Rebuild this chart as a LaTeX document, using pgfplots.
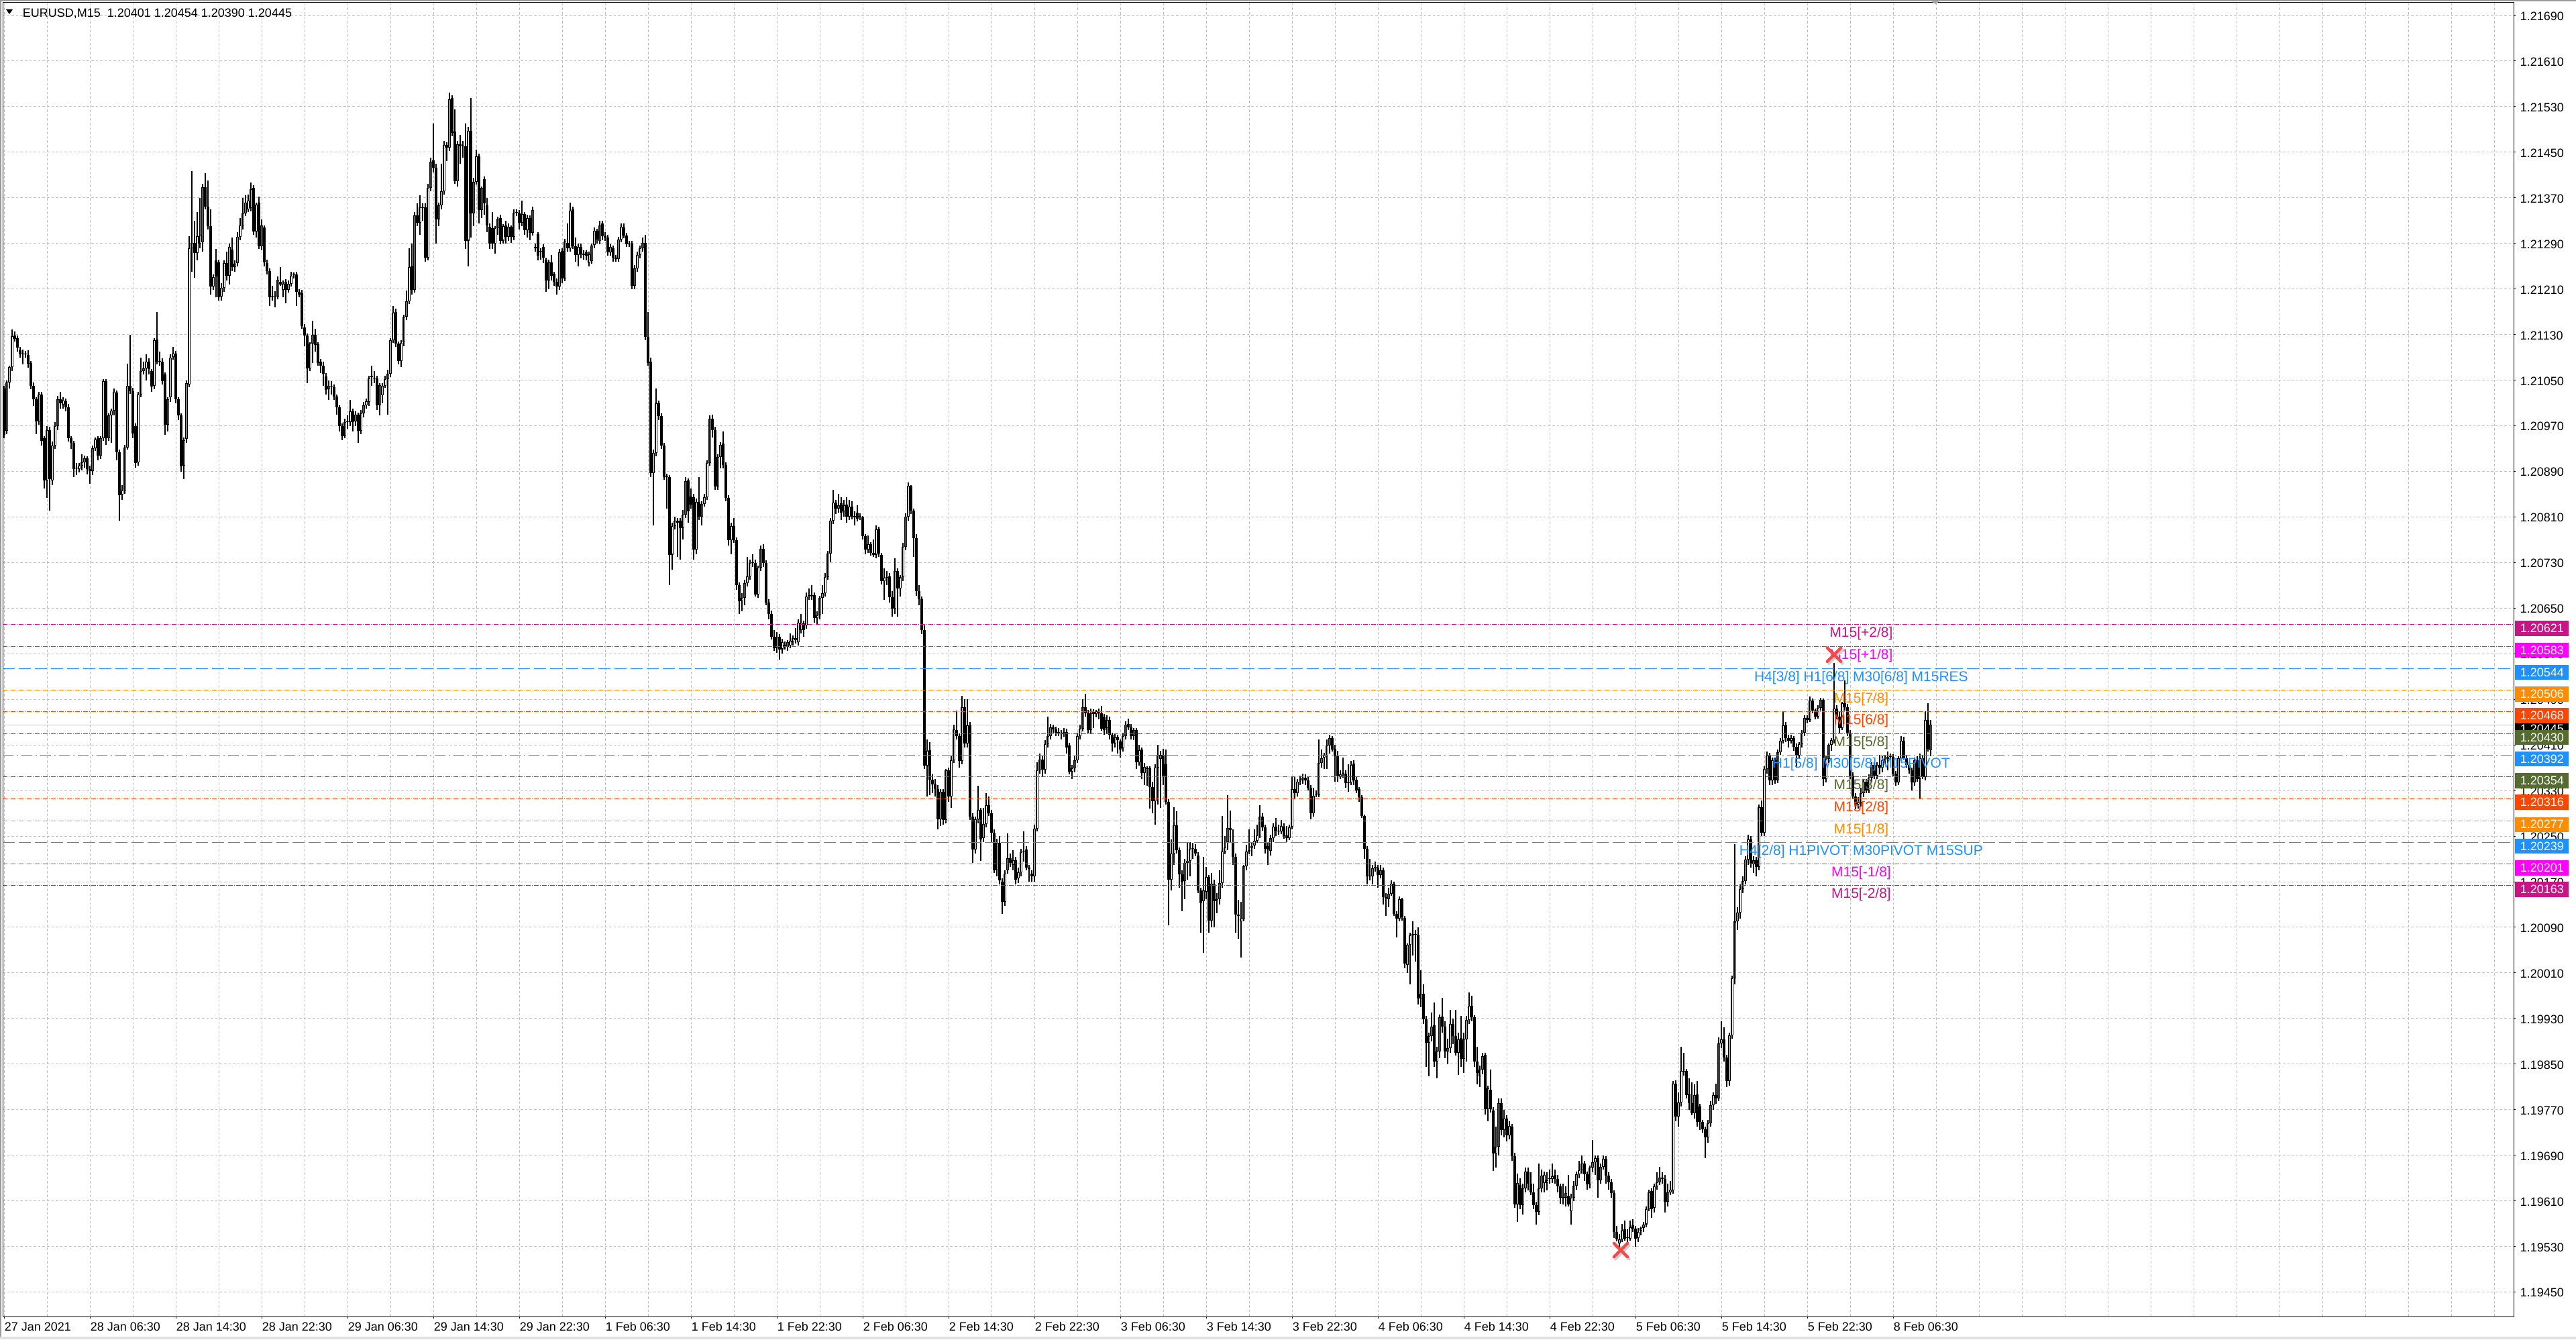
\documentclass[border=0pt]{standalone}
\usepackage{fontspec}
\setmainfont{Liberation Sans}
\usepackage{pgfplots}
\usepackage{pgfplotstable}
\pgfplotsset{compat=1.18}
\definecolor{mvr}{HTML}{C71585}
\definecolor{mag}{HTML}{FF00FF}
\definecolor{dblue}{HTML}{1E90FF}
\definecolor{dorange}{HTML}{FF8C00}
\definecolor{ored}{HTML}{FF4500}
\definecolor{olivec}{HTML}{556B2F}
\definecolor{gridc}{HTML}{C0C0C0}
\definecolor{xred}{HTML}{F24B4B}
\newcommand\tickfont{\fontsize{4.5pt}{5.4pt}\selectfont}
\newcommand\lvlfont{\fontsize{5.25pt}{6.3pt}\selectfont}
\tikzset{dd/.style={dash pattern=on 1.75pt off 0.5pt on 0.25pt off 0.5pt},
 bdd/.style={dash pattern=on 4pt off 1.25pt on 0.5pt off 1.25pt},
 bd/.style={dash pattern=on 4.5pt off 1.5pt}}
% EURUSD M15 bars; prices in points above 1.19000 (1 point = 0.00001)
\pgfplotstableread{
o h l c
2035 2040 1948 1954
1961 2050 1955 2046
2046 2076 2035 2073
2073 2139 2066 2127
2129 2136 2118 2122
2124 2128 2100 2107
2103 2108 2090 2096
2096 2104 2078 2097
2097 2101 2089 2095
2094 2102 2072 2079
2080 2084 2034 2040
2040 2046 2005 2016
2016 2020 1955 1978
1978 2030 1972 2025
2025 2029 1935 1944
1948 1952 1860 1874
1874 1970 1844 1963
1963 1968 1821 1876
1874 1942 1866 1935
1935 1976 1930 1970
1970 2022 1962 2017
2016 2030 2000 2009
2007 2020 2000 2015
2013 2018 1995 2002
2003 2008 1942 1948
1948 1952 1930 1940
1940 1944 1880 1894
1895 1905 1884 1895
1894 1905 1888 1900
1900 1920 1892 1906
1906 1918 1896 1913
1913 1917 1885 1894
1894 1900 1868 1891
1891 1935 1884 1931
1931 1950 1926 1946
1948 1952 1910 1918
1918 1952 1912 1948
1948 2052 1943 2048
2048 2052 1936 1948
1948 1992 1944 1988
1988 2000 1940 1997
1997 2035 1988 2029
2028 2032 1910 1923
1923 1928 1803 1848
1849 1866 1840 1857
1857 1936 1850 1932
1932 2079 1928 2040
2040 2130 2026 2031
2031 2036 1948 1956
1969 1974 1897 1905
1906 2030 1900 2025
2025 2090 2020 2066
2066 2082 2060 2071
2071 2095 2050 2083
2083 2088 2060 2070
2066 2070 2030 2039
2040 2124 2034 2120
2121 2170 2078 2083
2083 2100 2075 2083
2083 2088 2042 2048
2060 2064 1954 1972
1972 2020 1960 2017
2020 2095 2012 2090
2091 2108 2086 2097
2097 2101 2010 2016
2016 2020 1980 1988
1988 1992 1890 1899
1900 1950 1877 1945
1947 2050 1940 2045
2043 2303 2038 2282
2282 2417 2240 2291
2291 2330 2230 2273
2273 2345 2260 2303
2290 2370 2282 2304
2292 2395 2275 2389
2389 2413 2350 2355
2355 2400 2315 2320
2320 2350 2200 2214
2214 2236 2208 2231
2260 2280 2195 2232
2257 2262 2190 2196
2197 2220 2190 2212
2212 2260 2205 2256
2256 2275 2225 2233
2233 2290 2218 2284
2279 2300 2242 2248
2248 2260 2240 2254
2255 2310 2250 2302
2302 2335 2296 2321
2321 2370 2315 2343
2343 2375 2338 2362
2350 2376 2345 2365
2352 2397 2346 2385
2388 2392 2305 2311
2311 2362 2300 2358
2361 2372 2280 2285
2285 2332 2278 2321
2318 2322 2250 2257
2256 2262 2236 2242
2242 2246 2180 2195
2197 2215 2190 2197
2195 2206 2178 2197
2197 2232 2192 2226
2223 2248 2215 2218
2209 2225 2195 2219
2223 2227 2185 2209
2209 2225 2204 2219
2219 2240 2214 2233
2234 2239 2228 2234
2236 2240 2180 2205
2205 2210 2196 2200
2203 2208 2140 2145
2143 2148 2110 2129
2129 2132 2045 2071
2071 2117 2066 2114
2114 2154 2080 2130
2130 2140 2100 2112
2113 2117 2075 2080
2083 2087 2062 2075
2075 2082 2040 2061
2057 2062 2025 2033
2034 2050 2015 2040
2039 2048 2025 2039
2038 2042 2015 2021
2021 2025 1990 2002
2002 2006 1960 1969
1970 1974 1945 1952
1952 1982 1948 1977
1977 1988 1965 1977
1977 2015 1970 1995
1995 2000 1960 1977
1978 1995 1970 1989
1989 1993 1940 1961
1961 1998 1955 1992
1992 2012 1985 2006
2006 2018 2000 2013
2012 2058 2005 2053
2056 2075 2040 2056
2053 2066 2045 2053
2053 2058 1998 2006
2006 2045 1988 2041
2024 2045 2010 2040
2040 2058 2036 2052
2052 2068 1990 2061
2061 2124 2055 2120
2120 2180 2115 2168
2170 2175 2108 2114
2114 2118 2078 2084
2084 2120 2073 2116
2117 2165 2110 2161
2161 2207 2155 2189
2189 2282 2184 2248
2251 2290 2200 2209
2209 2345 2204 2339
2339 2360 2320 2326
2326 2375 2305 2353
2353 2360 2330 2352
2353 2360 2258 2265
2265 2395 2260 2388
2388 2440 2382 2433
2436 2500 2415 2423
2423 2430 2290 2332
2332 2362 2320 2357
2357 2430 2350 2382
2382 2470 2376 2463
2463 2468 2435 2458
2458 2555 2452 2543
2545 2550 2478 2484
2486 2525 2395 2399
2399 2470 2390 2464
2464 2480 2430 2461
2462 2470 2440 2460
2460 2500 2280 2295
2295 2495 2250 2487
2487 2545 2300 2343
2343 2405 2320 2398
2398 2455 2393 2443
2443 2448 2325 2348
2348 2390 2335 2387
2403 2408 2340 2360
2357 2370 2310 2321
2319 2325 2280 2290
2317 2345 2280 2290
2290 2320 2272 2317
2317 2337 2305 2333
2335 2340 2288 2295
2295 2324 2290 2320
2322 2330 2290 2301
2301 2325 2295 2319
2319 2322 2291 2301
2301 2350 2296 2344
2344 2350 2338 2344
2344 2348 2315 2326
2326 2365 2320 2342
2342 2345 2305 2313
2313 2340 2300 2335
2335 2339 2296 2309
2309 2355 2304 2349
2284 2290 2275 2281
2306 2310 2260 2268
2275 2282 2262 2275
2284 2288 2255 2265
2262 2265 2205 2225
2225 2262 2210 2257
2257 2270 2225 2233
2237 2240 2215 2223
2223 2228 2200 2214
2214 2280 2208 2275
2277 2282 2220 2229
2229 2298 2224 2293
2291 2325 2276 2282
2282 2361 2276 2347
2350 2354 2280 2285
2285 2300 2258 2270
2270 2290 2250 2284
2284 2290 2264 2271
2272 2278 2262 2270
2274 2278 2260 2268
2256 2275 2250 2271
2259 2290 2254 2286
2287 2318 2282 2312
2312 2316 2290 2297
2294 2330 2288 2322
2325 2330 2296 2303
2303 2310 2295 2300
2300 2305 2268 2274
2274 2288 2268 2284
2282 2286 2258 2265
2265 2270 2258 2263
2263 2302 2258 2297
2297 2325 2292 2319
2318 2325 2299 2304
2304 2308 2284 2289
2289 2294 2284 2289
2290 2295 2210 2216
2216 2252 2210 2246
2246 2275 2240 2270
2270 2286 2264 2281
2281 2300 2275 2291
2291 2305 2120 2126
2126 2170 2075 2080
2083 2090 1880 1887
1887 1928 1795 1922
1922 2035 1916 2009
2009 2014 1980 1987
1987 1992 1930 1935
1935 1940 1875 1880
1880 1886 1825 1880
1880 1884 1690 1744
1744 1800 1718 1794
1794 1810 1788 1803
1803 1808 1740 1800
1803 1808 1735 1791
1791 1822 1770 1814
1814 1880 1808 1873
1874 1878 1800 1820
1846 1860 1825 1832
1845 1850 1735 1753
1753 1842 1745 1836
1836 1880 1805 1811
1811 1838 1795 1833
1833 1850 1828 1845
1845 1910 1840 1905
1905 1988 1900 1983
1983 1990 1950 1963
1963 1968 1858 1864
1864 1920 1858 1915
1915 1941 1895 1937
1939 1960 1895 1901
1901 1906 1838 1843
1843 1848 1760 1769
1769 1800 1745 1794
1794 1808 1765 1769
1769 1774 1682 1690
1690 1695 1640 1662
1662 1676 1645 1668
1668 1700 1655 1694
1694 1740 1688 1706
1706 1735 1700 1729
1729 1745 1722 1729
1729 1735 1670 1674
1674 1725 1668 1721
1721 1760 1715 1754
1754 1762 1722 1729
1729 1734 1655 1660
1660 1666 1630 1640
1640 1646 1595 1600
1600 1612 1575 1580
1580 1608 1572 1600
1600 1604 1560 1578
1578 1596 1570 1590
1586 1592 1578 1583
1582 1594 1575 1590
1585 1606 1580 1593
1590 1602 1585 1598
1594 1615 1588 1598
1590 1630 1585 1624
1612 1640 1606 1624
1623 1628 1600 1612
1620 1678 1614 1671
1672 1685 1665 1672
1670 1690 1664 1673
1673 1678 1625 1633
1633 1645 1622 1637
1637 1672 1630 1668
1668 1690 1640 1676
1676 1712 1670 1705
1705 1750 1700 1746
1746 1808 1730 1803
1803 1858 1797 1835
1835 1840 1815 1825
1825 1850 1818 1831
1834 1845 1805 1818
1820 1840 1810 1831
1832 1845 1800 1811
1811 1840 1805 1828
1828 1838 1806 1811
1812 1820 1795 1809
1818 1830 1802 1807
1811 1816 1805 1811
1809 1812 1770 1776
1776 1780 1745 1753
1753 1778 1747 1762
1762 1766 1742 1747
1747 1770 1740 1744
1744 1795 1738 1788
1789 1793 1740 1746
1743 1747 1692 1698
1698 1720 1665 1703
1703 1715 1690 1705
1706 1712 1660 1669
1669 1680 1635 1649
1649 1738 1640 1715
1715 1720 1635 1684
1684 1708 1670 1704
1704 1765 1698 1758
1758 1816 1752 1810
1810 1870 1804 1865
1865 1866 1815 1821
1821 1825 1740 1773
1773 1780 1672 1680
1680 1690 1655 1666
1666 1670 1605 1612
1612 1620 1368 1374
1374 1420 1320 1400
1401 1415 1322 1349
1349 1358 1325 1341
1341 1350 1320 1333
1333 1340 1262 1280
1280 1333 1268 1328
1328 1332 1270 1278
1278 1368 1272 1365
1365 1370 1310 1319
1319 1390 1300 1383
1383 1445 1378 1437
1436 1470 1420 1425
1425 1430 1370 1382
1382 1496 1376 1476
1476 1490 1405 1412
1412 1490 1406 1444
1444 1450 1278 1284
1284 1290 1203 1227
1227 1284 1220 1279
1279 1338 1272 1296
1296 1300 1206 1244
1246 1300 1240 1271
1271 1325 1265 1304
1304 1320 1285 1290
1290 1296 1240 1256
1256 1262 1185 1190
1190 1245 1180 1238
1238 1250 1165 1172
1170 1176 1114 1135
1135 1190 1128 1184
1190 1255 1184 1211
1211 1220 1196 1203
1200 1225 1190 1208
1208 1214 1165 1173
1176 1195 1168 1187
1187 1228 1180 1222
1223 1258 1205 1223
1227 1232 1190 1195
1195 1200 1170 1192
1184 1190 1170 1180
1180 1270 1170 1263
1263 1380 1258 1365
1365 1395 1360 1384
1384 1390 1355 1367
1367 1418 1360 1411
1411 1460 1405 1425
1425 1447 1420 1441
1441 1446 1432 1437
1437 1442 1425 1432
1431 1440 1426 1432
1429 1436 1420 1429
1429 1440 1424 1433
1433 1438 1395 1406
1409 1414 1358 1363
1363 1375 1350 1369
1369 1390 1362 1383
1383 1432 1378 1426
1426 1445 1420 1439
1439 1490 1434 1476
1476 1500 1460 1466
1466 1472 1430 1436
1436 1474 1430 1466
1468 1473 1440 1464
1464 1472 1458 1469
1469 1474 1455 1465
1465 1478 1435 1439
1460 1464 1428 1436
1440 1462 1430 1454
1454 1460 1420 1428
1428 1432 1398 1412
1413 1430 1405 1423
1424 1428 1395 1418
1416 1420 1388 1402
1404 1432 1398 1426
1426 1452 1420 1446
1447 1456 1436 1441
1441 1447 1420 1426
1426 1440 1418 1436
1436 1440 1368 1380
1380 1410 1374 1401
1402 1406 1350 1361
1361 1378 1340 1371
1368 1372 1338 1368
1369 1373 1298 1336
1336 1346 1290 1311
1311 1376 1270 1370
1370 1410 1306 1392
1385 1400 1300 1393
1393 1403 1340 1356
1376 1402 1305 1310
1310 1315 1094 1173
1173 1244 1155 1220
1220 1301 1200 1269
1269 1294 1220 1225
1225 1230 1160 1183
1183 1190 1118 1169
1171 1210 1140 1203
1203 1238 1173 1207
1207 1240 1180 1228
1228 1238 1210 1228
1228 1236 1215 1219
1216 1222 1150 1155
1155 1160 1081 1132
1136 1214 1045 1155
1152 1196 1140 1178
1178 1182 1080 1102
1102 1185 1090 1166
1165 1173 1090 1136
1136 1150 1115 1140
1140 1190 1130 1168
1168 1285 1160 1223
1223 1250 1218 1230
1239 1322 1225 1264
1264 1295 1240 1261
1239 1262 1200 1214
1214 1220 1080 1112
1112 1138 1070 1110
1101 1135 1037 1105
1104 1200 1100 1197
1197 1235 1190 1223
1223 1262 1218 1225
1229 1240 1215 1233
1234 1262 1228 1242
1242 1270 1238 1251
1251 1304 1246 1284
1284 1290 1260 1265
1265 1270 1220 1228
1233 1238 1200 1226
1224 1252 1216 1246
1246 1272 1240 1267
1267 1282 1250 1259
1260 1270 1252 1258
1258 1278 1254 1268
1267 1272 1245 1250
1251 1268 1240 1247
1247 1270 1243 1266
1266 1355 1262 1332
1332 1355 1315 1326
1326 1350 1320 1346
1348 1356 1340 1349
1348 1360 1342 1352
1352 1358 1340 1348
1348 1355 1330 1335
1335 1340 1280 1290
1290 1335 1284 1321
1323 1330 1318 1323
1323 1420 1318 1378
1378 1402 1370 1387
1388 1396 1368 1391
1391 1420 1368 1409
1409 1428 1395 1422
1422 1426 1398 1402
1403 1410 1345 1390
1390 1400 1345 1355
1355 1365 1350 1359
1360 1388 1352 1360
1360 1365 1335 1343
1343 1376 1328 1344
1344 1382 1340 1375
1377 1383 1340 1348
1349 1354 1325 1330
1332 1336 1310 1318
1318 1322 1282 1285
1285 1288 1210 1228
1228 1232 1165 1179
1179 1210 1172 1181
1179 1200 1165 1194
1194 1205 1188 1196
1195 1200 1160 1182
1182 1200 1176 1190
1190 1195 1130 1143
1143 1150 1110 1141
1140 1160 1125 1149
1149 1172 1145 1166
1166 1170 1110 1114
1114 1118 1072 1105
1105 1144 1100 1140
1139 1142 1102 1108
1106 1110 1018 1026
1024 1062 1010 1059
1059 1080 990 1076
1076 1100 1040 1078
1077 1085 1030 1077
1077 1090 955 965
965 1015 950 974
974 990 920 929
929 935 845 888
888 905 829 899
899 940 890 916
918 958 845 855
855 880 825 872
872 937 860 932
933 966 905 916
916 925 860 872
872 895 850 878
878 945 870 920
920 930 885 899
899 945 865 870
870 905 831 893
896 935 845 859
859 905 835 893
893 935 855 927
927 976 920 952
952 970 925 932
932 936 845 855
855 880 815 835
829 848 810 840
840 870 832 864
866 870 761 771
771 812 750 807
805 840 765 771
769 775 663 693
693 740 668 705
705 790 690 782
782 790 725 734
734 770 722 755
755 760 715 725
725 750 718 741
740 745 680 689
689 694 598 604
604 658 573 641
638 650 595 603
603 640 586 632
632 668 625 661
661 668 628 640
640 660 620 625
625 640 595 603
603 608 569 591
591 675 585 632
632 665 625 654
641 662 625 656
641 660 628 646
649 665 640 649
649 675 642 653
656 665 640 649
649 655 625 635
635 640 605 616
616 640 604 616
616 635 600 624
619 655 600 604
592 622 569 616
616 645 610 637
637 662 630 657
657 680 650 664
664 690 658 676
676 680 645 657
657 662 630 639
639 672 632 668
668 717 660 678
678 690 656 685
685 690 616 646
646 675 640 670
670 690 665 684
684 688 640 654
654 660 630 643
643 648 615 624
624 628 545 556
556 566 539 543
536 552 523 543
543 570 538 558
560 575 540 544
545 560 538 545
544 576 540 564
567 578 555 561
561 566 530 544
545 562 538 556
558 565 550 562
562 573 556 569
569 600 564 596
596 630 592 625
627 632 580 596
598 640 590 635
635 660 630 643
643 670 638 651
649 660 640 651
649 655 590 609
609 640 600 625
625 645 620 630
628 820 622 816
816 822 750 758
758 800 740 783
783 880 776 838
838 870 830 837
838 842 790 796
798 825 770 782
781 818 760 764
764 815 755 796
797 820 740 749
776 780 735 749
749 752 730 736
736 740 685 721
721 752 712 746
746 785 740 778
778 800 770 796
796 816 780 790
790 897 785 886
886 925 878 893
893 915 855 862
862 866 810 820
820 905 812 900
900 1005 895 1000
1000 1236 990 1100
1100 1125 1085 1116
1116 1165 1105 1157
1157 1180 1150 1171
1171 1215 1165 1209
1209 1252 1200 1244
1244 1250 1195 1201
1201 1215 1185 1208
1208 1214 1179 1196
1196 1305 1190 1301
1301 1312 1250 1256
1256 1372 1250 1368
1368 1398 1360 1391
1391 1396 1340 1348
1348 1388 1340 1383
1383 1388 1342 1348
1348 1402 1343 1397
1397 1422 1392 1417
1417 1469 1412 1444
1444 1450 1415 1422
1422 1428 1405 1417
1417 1428 1412 1422
1422 1426 1400 1407
1407 1412 1370 1391
1391 1415 1385 1411
1411 1436 1406 1431
1431 1462 1426 1457
1457 1462 1448 1454
1454 1495 1450 1488
1488 1492 1465 1470
1470 1474 1455 1460
1460 1480 1456 1475
1475 1493 1470 1489
1489 1492 1338 1350
1350 1390 1344 1385
1385 1412 1378 1410
1410 1422 1400 1418
1418 1554 1412 1474
1474 1480 1455 1460
1460 1468 1432 1440
1440 1486 1436 1483
1483 1523 1470 1476
1476 1482 1425 1431
1431 1436 1350 1356
1356 1362 1315 1320
1320 1325 1297 1305
1305 1318 1298 1309
1309 1335 1302 1325
1325 1350 1318 1345
1345 1350 1325 1330
1330 1358 1325 1352
1352 1380 1346 1375
1375 1380 1350 1356
1356 1380 1350 1375
1375 1392 1358 1370
1370 1390 1362 1383
1383 1392 1376 1386
1386 1398 1365 1389
1389 1395 1384 1389
1389 1394 1355 1360
1360 1364 1338 1344
1344 1390 1340 1387
1387 1425 1382 1417
1417 1424 1384 1387
1387 1392 1370 1375
1375 1380 1360 1366
1366 1370 1330 1344
1344 1388 1338 1383
1383 1390 1345 1350
1350 1395 1316 1387
1387 1392 1350 1354
1354 1469 1348 1454
1454 1483 1398 1403
1401 1454 1390 1445
}\candles
\newcommand\yl[2]{\node[anchor=west,inner sep=0pt,font=\tickfont,xshift=2.25pt,yshift=-0.3pt] at (axis cs:935.25,#1) {#2};}
\newcommand\lbox[3]{\node[fill=#2,text=white,minimum width=20pt,minimum height=5.625pt,inner sep=0pt,anchor=west,font=\tickfont,xshift=0.375pt,yshift=-1.4pt] at (axis cs:935.25,#1) {#3};}
\newcommand\lvl[3]{\addplot[#2,line width=#3,forget plot] coordinates {(-0.5,#1) (935.25,#1)};}
\newcommand\ltxt[3]{\node[anchor=base,inner sep=0pt,text=#2,font=\lvlfont,yshift=-4.75pt] at (axis cs:692.1,#1) {#3};}
\begin{document}
\begin{tikzpicture}
\begin{axis}[name=ax, scale only axis, width=935.75pt, height=489.5pt,
 xmin=-0.5, xmax=935.25, ymin=407.1, ymax=2712.4, clip=false,
 axis line style={black, line width=0.25pt},
 xtick={0,32,...,704},
 xticklabels={27 Jan 2021,28 Jan 06:30,28 Jan 14:30,28 Jan 22:30,29 Jan 06:30,29 Jan 14:30,29 Jan 22:30,1 Feb 06:30,1 Feb 14:30,1 Feb 22:30,2 Feb 06:30,2 Feb 14:30,2 Feb 22:30,3 Feb 06:30,3 Feb 14:30,3 Feb 22:30,4 Feb 06:30,4 Feb 14:30,4 Feb 22:30,5 Feb 06:30,5 Feb 14:30,5 Feb 22:30,8 Feb 06:30},
 minor xtick={16,48,80,112,144,176,208,240,272,304,336,368,400,432,464,496,528,560,592,624,656,688,720,736,752,768,784,800,816,832,848,864,880,896,912,928},
 ytick={450,530,...,2690}, yticklabels={},
 xtick pos=left, ytick pos=right,
 tick align=outside, major tick length=0.75pt, minor tick length=0pt,
 tick style={black, line width=0.25pt},
 grid=both,
 major grid style={gridc, line width=0.25pt, dash pattern=on 0.9pt off 0.75pt},
 minor grid style={gridc, line width=0.25pt, dash pattern=on 0.9pt off 0.75pt},
 xticklabel style={font=\tickfont, anchor=north west, inner sep=0pt, yshift=-1.25pt},
]
\addplot[gridc, line width=0.25pt, forget plot] coordinates {(-0.5,1445) (935.25,1445)};
\addplot[draw=none, mark=none, forget plot, error bars/.cd, y dir=plus, y explicit, error mark=none,
  error bar style={draw=black, solid, line width=0.32pt}]
  table[x expr=\coordindex, y=l, y error plus expr=\thisrow{h}-\thisrow{l}] {\candles};
\addplot[draw=none, mark=none, forget plot, error bars/.cd, y dir=plus, y explicit, error mark=none,
  error bar style={draw=black, solid, line width=0.82pt}]
  table[x expr=\coordindex, y expr={min(\thisrow{o},\thisrow{c})}, y error plus expr={max(abs(\thisrow{c}-\thisrow{o}),1.2)}] {\candles};
\addplot[draw=none, mark=none, forget plot, error bars/.cd, y dir=plus, y explicit, error mark=none,
  error bar style={draw=white, solid, line width=0.25pt}]
  table[x expr=\coordindex, y expr={\thisrow{o}+1.2}, y error plus expr={max(\thisrow{c}-\thisrow{o}-2.4,0)}] {\candles};
\lvl{1621}{mvr,dd}{0.25pt}
\lvl{1583}{mag,dd}{0.25pt}
\lvl{1544}{dblue,bd}{0.3pt}
\lvl{1506}{dorange,dd}{0.25pt}
\lvl{1468}{ored,dd}{0.25pt}
\lvl{1430}{olivec,dd}{0.25pt}
\lvl{1392}{dblue,bdd}{0.25pt}
\lvl{1354}{olivec,dd}{0.25pt}
\lvl{1316}{ored,dd}{0.25pt}
\lvl{1277}{dorange,dd}{0.25pt}
\lvl{1239}{dblue,bd}{0.45pt}
\lvl{1201}{mag,dd}{0.25pt}
\lvl{1163}{mvr,dd}{0.25pt}
\yl{450}{1.19450}\yl{530}{1.19530}\yl{610}{1.19610}\yl{690}{1.19690}\yl{770}{1.19770}
\yl{850}{1.19850}\yl{930}{1.19930}\yl{1010}{1.20010}\yl{1090}{1.20090}\yl{1170}{1.20170}
\yl{1250}{1.20250}\yl{1330}{1.20330}\yl{1410}{1.20410}\yl{1490}{1.20490}\yl{1570}{1.20570}
\yl{1650}{1.20650}\yl{1730}{1.20730}\yl{1810}{1.20810}\yl{1890}{1.20890}\yl{1970}{1.20970}
\yl{2050}{1.21050}\yl{2130}{1.21130}\yl{2210}{1.21210}\yl{2290}{1.21290}\yl{2370}{1.21370}
\yl{2450}{1.21450}\yl{2530}{1.21530}\yl{2610}{1.21610}\yl{2690}{1.21690}
\lbox{1445}{black}{1.20445}
\lbox{1621}{mvr}{1.20621}
\lbox{1583}{mag}{1.20583}
\lbox{1544}{dblue}{1.20544}
\lbox{1506}{dorange}{1.20506}
\lbox{1468}{ored}{1.20468}
\lbox{1430}{olivec}{1.20430}
\lbox{1392}{dblue}{1.20392}
\lbox{1354}{olivec}{1.20354}
\lbox{1316}{ored}{1.20316}
\lbox{1277}{dorange}{1.20277}
\lbox{1239}{dblue}{1.20239}
\lbox{1201}{mag}{1.20201}
\lbox{1163}{mvr}{1.20163}
\ltxt{1621}{mvr}{M15[+2/8]}
\ltxt{1583}{mag}{M15[+1/8]}
\ltxt{1544}{dblue}{H4[3/8] H1[6/8] M30[6/8] M15RES}
\ltxt{1506}{dorange}{M15[7/8]}
\ltxt{1468}{ored}{M15[6/8]}
\ltxt{1430}{olivec}{M15[5/8]}
\ltxt{1392}{dblue}{H1[5/8] M30[5/8] M15PIVOT}
\ltxt{1354}{olivec}{M15[3/8]}
\ltxt{1316}{ored}{M15[2/8]}
\ltxt{1277}{dorange}{M15[1/8]}
\ltxt{1239}{dblue}{H4[2/8] H1PIVOT M30PIVOT M15SUP}
\ltxt{1201}{mag}{M15[-1/8]}
\ltxt{1163}{mvr}{M15[-2/8]}
\addplot[only marks, mark=x, mark size=3.6pt, forget plot, mark options={line width=1.1pt, line cap=round, draw=black!18}] coordinates {(682.6,1565) (603.1,520)};
\addplot[only marks, mark=x, mark size=3.6pt, forget plot, mark options={line width=1.1pt, line cap=round, draw=xred}] coordinates {(682,1568.4) (602.5,523.7)};
\node[anchor=base west, inner sep=0pt, font=\tickfont, xshift=7.25pt, yshift=-5.5pt] at (rel axis cs:0,1) {EURUSD,M15\ \ 1.20401 1.20454 1.20390 1.20445};
\fill[black] (rel axis cs:0,1) ++(1.25pt,-2.5pt) -- ++(2.5pt,0pt) -- ++(-1.25pt,-1.75pt) -- cycle;
\fill[black!35] (axis cs:719.75,2712.4) ++(-2pt,1pt) -- ++(4pt,0pt) -- ++(-2pt,-1.6pt) -- cycle;
\end{axis}
\pgfresetboundingbox
\path[use as bounding box] ([shift={(-1pt,-8.5pt)}]ax.south west) rectangle ([shift={(23.25pt,1pt)}]ax.north east);
\fill[black!40] ([shift={(-1pt,1pt)}]ax.north west) rectangle ([shift={(23.25pt,0.6pt)}]ax.north east);
\fill[black!40] ([shift={(-1pt,1pt)}]ax.north west) rectangle ([shift={(-0.6pt,-8.5pt)}]ax.south west);
\fill[black!12] ([shift={(-1pt,-8.5pt)}]ax.south west) rectangle ([shift={(23.25pt,-7.6pt)}]ax.south east);
\end{tikzpicture}
\end{document}
